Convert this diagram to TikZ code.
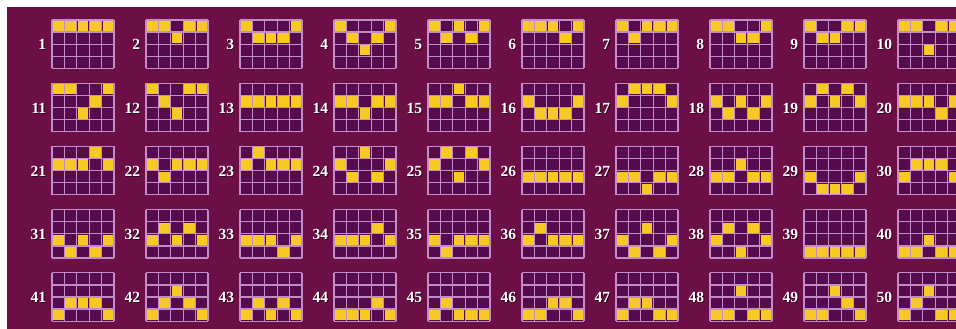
\documentclass[tikz,border=0pt]{standalone}
\usepackage{fontspec}
\setmainfont{Liberation Serif}
\definecolor{bg}{HTML}{6C0F46}
\definecolor{cellc}{HTML}{560B4C}
\definecolor{gridc}{HTML}{C48CC6}
\definecolor{gold}{HTML}{F8C824}
\begin{document}
\begin{tikzpicture}[x=1pt,y=-1pt,
  numlabel/.style={font=\bfseries\fontsize{15.5}{15.5}\selectfont, text=white, anchor=east, inner sep=0pt},
  numshadow/.style={font=\bfseries\fontsize{15.5}{15.5}\selectfont, text=black, opacity=0.6, anchor=east, inner sep=0pt},
  gline/.style={draw=gridc, line width=1.35pt},
  goldcell/.style={fill=gold},
  darkcell/.style={fill=cellc}]
\useasboundingbox (0,0) rectangle (956,329);
\clip (0,0) rectangle (956,329);
\fill[white] (0,0) rectangle (956,329);
\fill[bg] (7,7) rectangle (956,329);
\def\cw{12.4}
\def\ch{12.1}
\foreach \n/\pa/\pb/\pc/\pd/\pe [count=\i from 0] in {
 1/0/0/0/0/0, 2/0/0/1/0/0, 3/0/1/1/1/0, 4/0/1/2/1/0, 5/0/1/0/1/0,
 6/0/0/0/1/0, 7/0/1/0/0/0, 8/0/0/1/1/0, 9/0/1/1/0/0, 10/0/0/2/0/0,
 11/0/0/2/1/0, 12/0/1/2/0/0, 13/1/1/1/1/1, 14/1/1/2/1/1, 15/1/1/0/1/1,
 16/1/2/2/2/1, 17/1/0/0/0/1, 18/1/2/1/2/1, 19/1/0/1/0/1, 20/1/1/1/2/1,
 21/1/1/1/0/1, 22/1/2/1/1/1, 23/1/0/1/1/1, 24/1/2/0/2/1, 25/1/0/2/0/1,
 26/2/2/2/2/2, 27/2/2/3/2/2, 28/2/2/1/2/2, 29/2/3/3/3/2, 30/2/1/1/1/2,
 31/2/3/2/3/2, 32/2/1/2/1/2, 33/2/2/2/3/2, 34/2/2/2/1/2, 35/2/3/2/2/2,
 36/2/1/2/2/2, 37/2/3/1/3/2, 38/2/1/3/1/2, 39/3/3/3/3/3, 40/3/3/2/3/3,
 41/3/2/2/2/3, 42/3/2/1/2/3, 43/3/2/3/2/3, 44/3/3/3/2/3, 45/3/2/3/3/3,
 46/3/3/2/2/3, 47/3/2/2/3/3, 48/3/3/1/3/3, 49/3/3/1/2/3, 50/3/2/1/3/3} {
  \pgfmathtruncatemacro\gr{floor(\i/10)}
  \pgfmathtruncatemacro\gc{mod(\i,10)}
  \pgfmathsetmacro\gx{52+94*\gc}
  \pgfmathsetmacro\gy{20+63.2*\gr}
  \begin{scope}[shift={(\gx,\gy)}]
    \fill[darkcell] (0,0) rectangle (5*\cw,4*\ch);
    \foreach \r [count=\cc from 0] in {\pa,\pb,\pc,\pd,\pe} {
      \fill[goldcell] (\cc*\cw+0.9,\r*\ch+0.9) rectangle ++(\cw-1.8,\ch-1.8);
    }
    \foreach \k in {0,...,5} \draw[gline] (\k*\cw,0) -- (\k*\cw,4*\ch);
    \foreach \k in {0,...,4} \draw[gline] (0,\k*\ch) -- (5*\cw,\k*\ch);
  \end{scope}
  \node[numshadow] (s\n) at (\gx-4.6,\gy+25.8) {\n};
  \node[numlabel] (n\n) at (\gx-5.6,\gy+24.8) {\n};
}
\end{tikzpicture}
\end{document}
